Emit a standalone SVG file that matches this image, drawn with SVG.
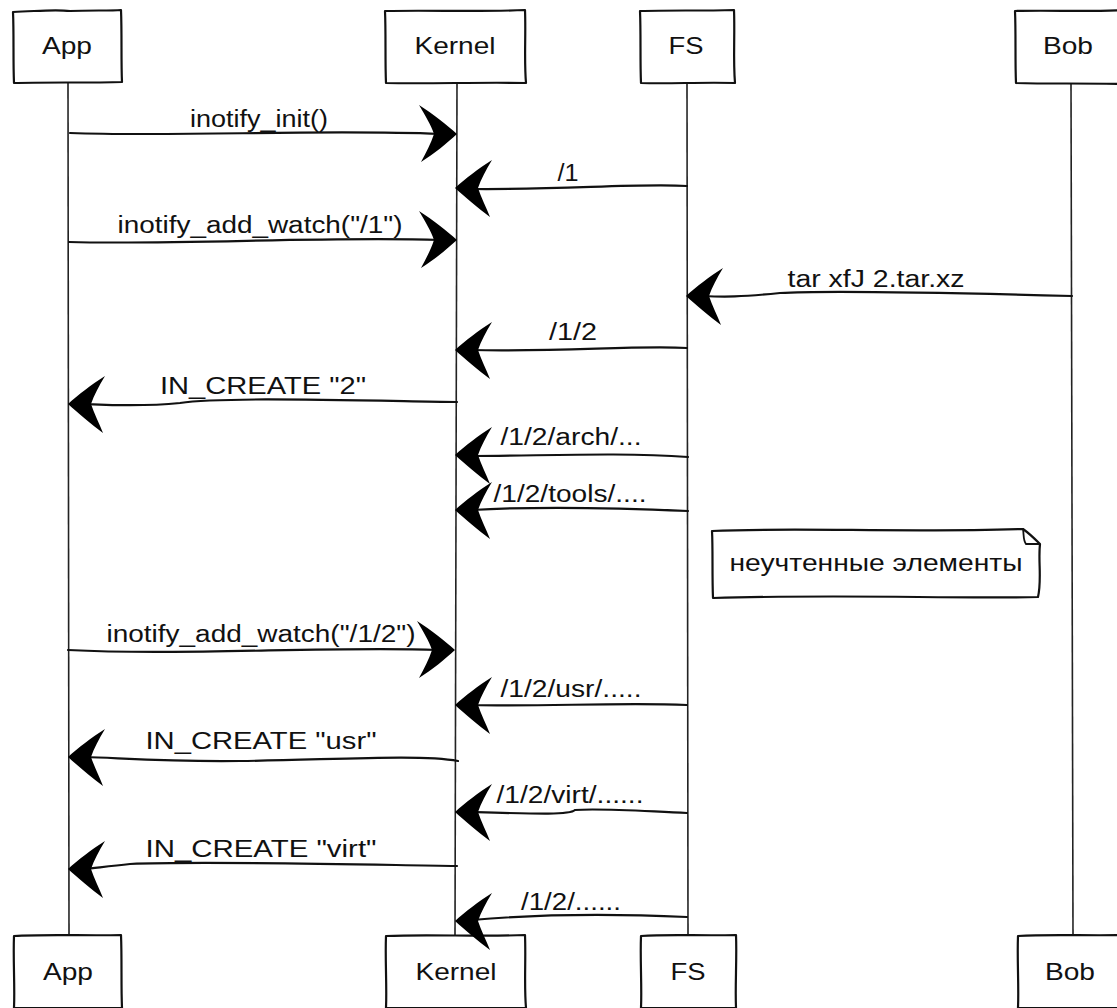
<svg xmlns="http://www.w3.org/2000/svg" width="1117" height="1008" viewBox="0 0 1117 1008">
<style>
.box{fill:#fff;stroke:#111;stroke-width:2.2;stroke-linejoin:round}
.life{fill:none;stroke:#222;stroke-width:1.6}
.msg{fill:none;stroke:#111;stroke-width:2.2;stroke-linecap:round}
.head{fill:#000}
.pt{font-family:"Liberation Sans",Arial,sans-serif;font-size:24px;fill:#111;text-anchor:middle}
.lb{font-family:"Liberation Sans",Arial,sans-serif;font-size:23px;fill:#111;text-anchor:middle}
</style>
<defs>
<path id="ahR" class="head" d="M0,0 C-10,-9 -24,-20 -38,-29 C-32,-19 -26,-9 -23,0 C-26,9 -31,19 -36,28 C-23,20 -10,9 0,0 Z"/>
<path id="ahL" class="head" d="M0,0 C10,-9 24,-20 37,-28 C31,-18 26,-9 23,0 C26,9 31,19 35,29 C23,20 10,9 0,0 Z"/>
</defs>
<rect width="1117" height="1008" fill="#fff"/>

<g id="app">
<path class="life" d="M68,82 C69,300 68,600 69,935"/>
<path class="box" d="M13,12 C40,11 55,9 70,11 C90,10 110,11 121,10 C122,35 121,60 122,82 C90,83 40,82 14,83 C13,60 14,35 13,12 Z"/>
<text class="pt" x="67" y="54" textLength="50" lengthAdjust="spacingAndGlyphs">App</text>
<path class="box" d="M14,936 C45,934 90,936 121,935 C122,960 121,985 122,1008 L14,1008 C15,985 13,960 14,936 Z"/>
<text class="pt" x="68" y="980" textLength="50" lengthAdjust="spacingAndGlyphs">App</text>
</g>

<g id="kernel">
<path class="life" d="M457,82 C458,300 456,600 455,935"/>
<path class="box" d="M385,11 C430,10 480,12 525,10 C526,35 524,60 526,83 C480,82 430,84 386,83 C385,60 386,35 385,11 Z"/>
<text class="pt" x="455" y="54" textLength="81" lengthAdjust="spacingAndGlyphs">Kernel</text>
<path class="box" d="M386,936 C430,934 480,937 525,935 C526,960 524,985 526,1008 L386,1008 C387,985 385,960 386,936 Z"/>
<text class="pt" x="456" y="980" textLength="81" lengthAdjust="spacingAndGlyphs">Kernel</text>
</g>

<g id="fs">
<path class="life" d="M687,82 C688,300 687,600 688,935"/>
<path class="box" d="M640,11 C670,10 700,11 734,10 C735,35 733,60 735,83 C700,82 670,84 641,83 C640,60 641,35 640,11 Z"/>
<text class="pt" x="686" y="54" textLength="35" lengthAdjust="spacingAndGlyphs">FS</text>
<path class="box" d="M641,936 C670,934 700,936 736,935 C737,960 735,985 736,1008 L641,1008 C642,985 640,960 641,936 Z"/>
<text class="pt" x="688" y="980" textLength="35" lengthAdjust="spacingAndGlyphs">FS</text>
</g>

<g id="bob">
<path class="life" d="M1071,82 C1072,300 1072,600 1073,935"/>
<path class="box" d="M1015,11 C1050,10 1090,12 1125,10 L1125,84 C1080,83 1050,84 1016,83 C1015,60 1016,35 1015,11 Z"/>
<text class="pt" x="1068" y="54" textLength="50" lengthAdjust="spacingAndGlyphs">Bob</text>
<path class="box" d="M1018,936 C1050,934 1090,936 1125,935 L1125,1008 L1018,1008 C1019,985 1017,960 1018,936 Z"/>
<text class="pt" x="1070" y="980" textLength="50" lengthAdjust="spacingAndGlyphs">Bob</text>
</g>

<g id="note">
<path class="box" d="M712,531 C800,527 900,533 1023,529 C1030,534 1035,539 1040,544 C1038,560 1042,580 1038,597 C950,599 850,594 713,598 C712,575 713,550 712,531 Z"/>
<path fill="none" stroke="#111" stroke-width="1.8" d="M1023,529 C1024,535 1023,540 1026,544 L1040,544"/>
<text class="lb" x="876" y="571" textLength="293" lengthAdjust="spacingAndGlyphs">неучтенные элементы</text>
</g>

<g id="connectors">
<path class="msg" d="M70,133 C180,137 320,129 440,134"/>
<use href="#ahR" x="457" y="134"/>
<text class="lb" x="259" y="127" textLength="138" lengthAdjust="spacingAndGlyphs">inotify_init()</text>

<path class="msg" d="M687,186 C640,183 560,190 472,189"/>
<use href="#ahL" x="455" y="188"/>
<text class="lb" x="568" y="181" textLength="21" lengthAdjust="spacingAndGlyphs">/1</text>

<path class="msg" d="M69,242 C180,245 330,236 440,240"/>
<use href="#ahR" x="457" y="240"/>
<text class="lb" x="260" y="233" textLength="285" lengthAdjust="spacingAndGlyphs">inotify_add_watch("/1")</text>

<path class="msg" d="M1072,296 C960,293 830,290 780,293 C740,297 725,297 703,296"/>
<use href="#ahL" x="686" y="296"/>
<text class="lb" x="876" y="287" textLength="177" lengthAdjust="spacingAndGlyphs">tar xfJ 2.tar.xz</text>

<path class="msg" d="M687,348 C640,345 560,352 472,350"/>
<use href="#ahL" x="455" y="350"/>
<text class="lb" x="573" y="340" textLength="48" lengthAdjust="spacingAndGlyphs">/1/2</text>

<path class="msg" d="M457,402 C330,400 220,397 180,403 C140,407 110,405 85,404"/>
<use href="#ahL" x="68" y="404"/>
<text class="lb" x="263" y="394" textLength="206" lengthAdjust="spacingAndGlyphs">IN_CREATE "2"</text>

<path class="msg" d="M688,457 C620,452 540,456 472,456"/>
<use href="#ahL" x="455" y="455"/>
<text class="lb" x="571" y="445" textLength="141" lengthAdjust="spacingAndGlyphs">/1/2/arch/...</text>

<path class="msg" d="M688,511 C620,508 540,506 472,510"/>
<use href="#ahL" x="455" y="510"/>
<text class="lb" x="570" y="502" textLength="153" lengthAdjust="spacingAndGlyphs">/1/2/tools/....</text>

<path class="msg" d="M68,650 C180,656 330,646 438,650"/>
<use href="#ahR" x="455" y="650"/>
<text class="lb" x="261" y="642" textLength="309" lengthAdjust="spacingAndGlyphs">inotify_add_watch("/1/2")</text>

<path class="msg" d="M687,705 C620,702 540,707 472,705"/>
<use href="#ahL" x="455" y="705"/>
<text class="lb" x="571" y="697" textLength="141" lengthAdjust="spacingAndGlyphs">/1/2/usr/.....</text>

<path class="msg" d="M458,761 C420,754 330,760 240,761 C170,762 120,758 85,757"/>
<use href="#ahL" x="68" y="757"/>
<text class="lb" x="261" y="749" textLength="231" lengthAdjust="spacingAndGlyphs">IN_CREATE "usr"</text>

<path class="msg" d="M687,813 C640,811 600,808 575,810 C570,815 540,814 472,812"/>
<use href="#ahL" x="455" y="812"/>
<text class="lb" x="570" y="803" textLength="147" lengthAdjust="spacingAndGlyphs">/1/2/virt/......</text>

<path class="msg" d="M457,866 C330,864 200,861 130,864 C110,866 95,868 85,869"/>
<use href="#ahL" x="68" y="869"/>
<text class="lb" x="261" y="857" textLength="231" lengthAdjust="spacingAndGlyphs">IN_CREATE "virt"</text>

<path class="msg" d="M687,917 C620,914 540,914 472,920"/>
<use href="#ahL" x="455" y="921"/>
<text class="lb" x="571" y="910" textLength="100" lengthAdjust="spacingAndGlyphs">/1/2/......</text>
</g>
</svg>
